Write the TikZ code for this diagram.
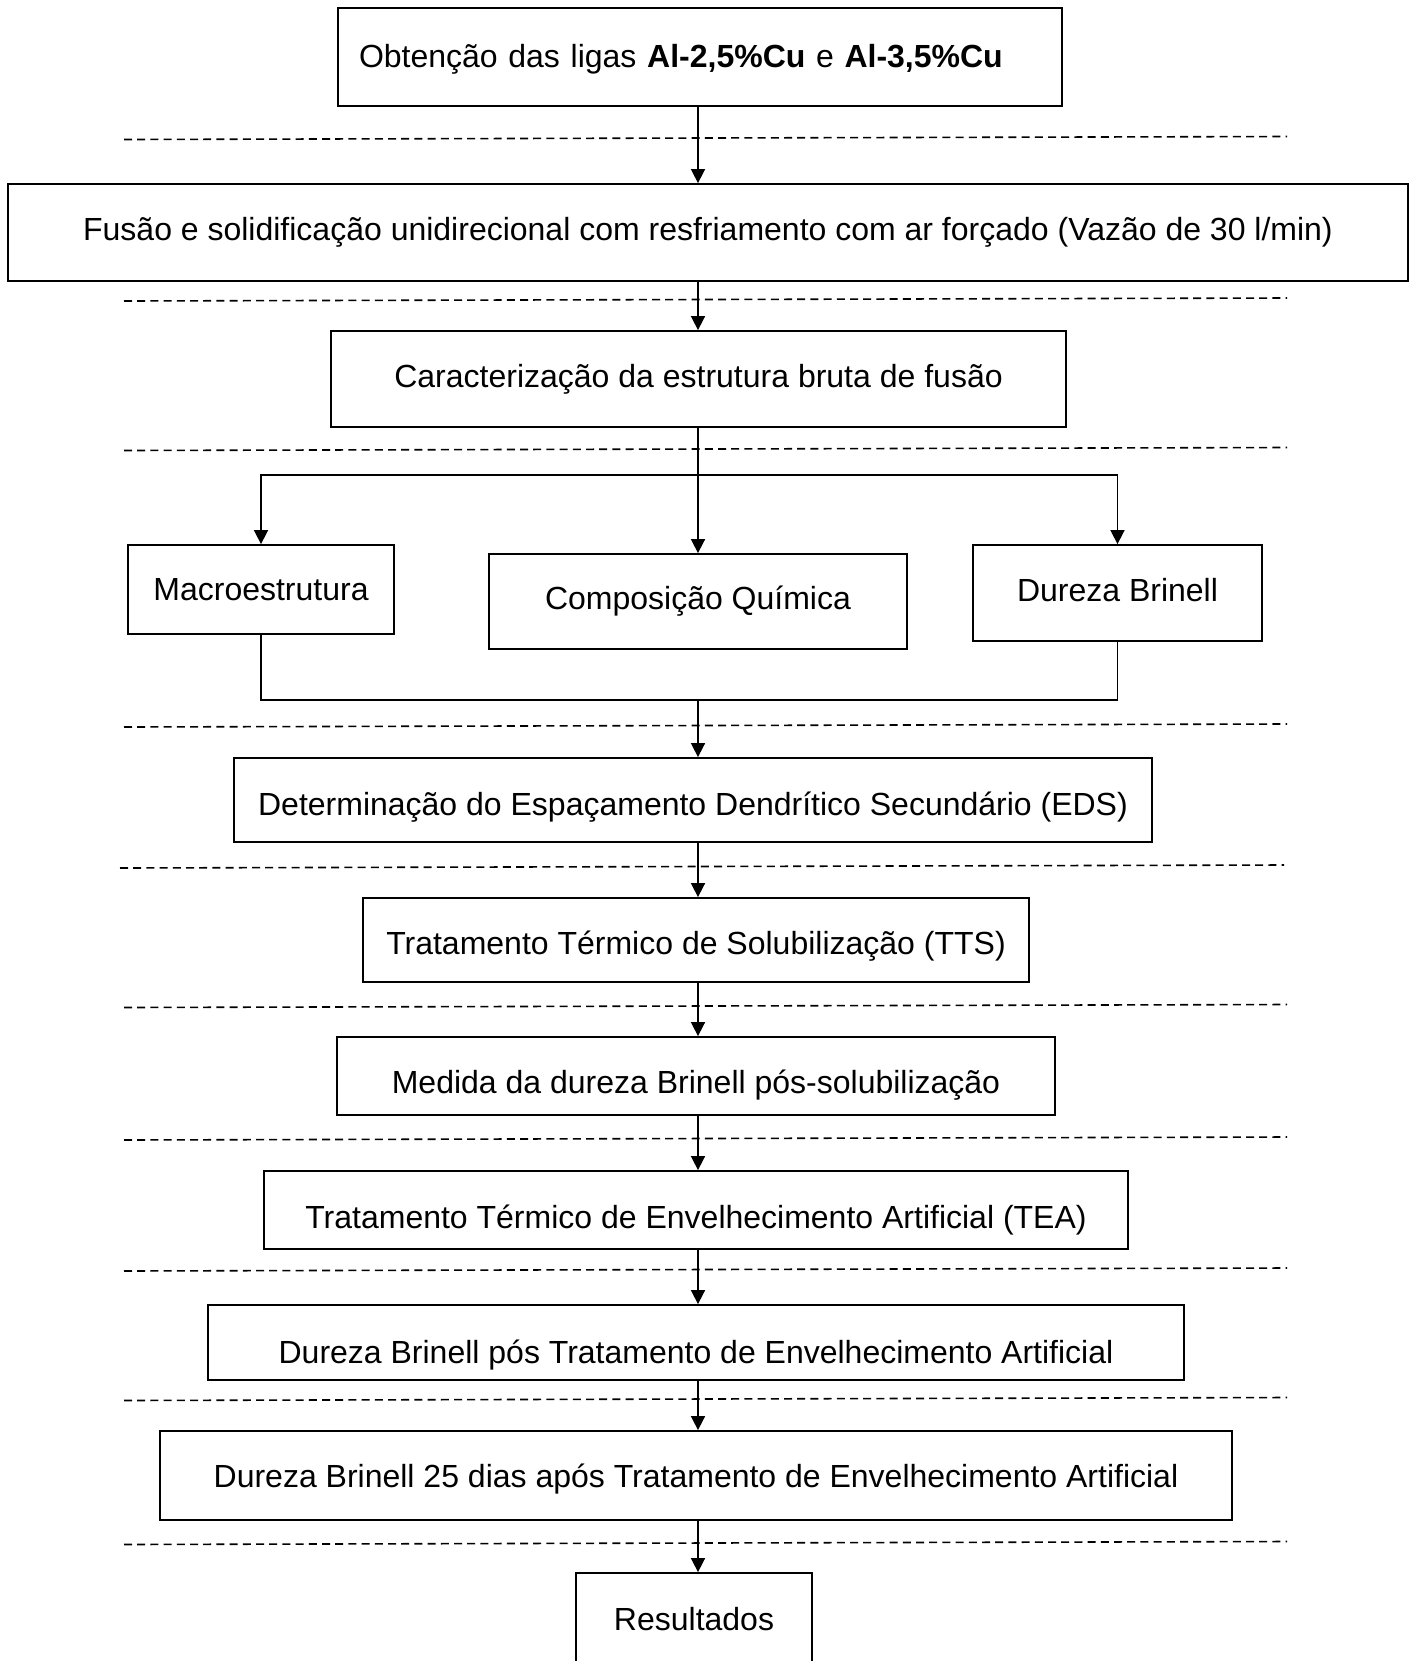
\documentclass[tikz,border=0pt]{standalone}
\usepackage{fontspec}
\setmainfont{Liberation Sans}
\usetikzlibrary{arrows.meta}

\tikzset{
  caixa/.style={draw, line width=0.9pt, inner sep=0pt, font=\fontsize{16}{19}\selectfont},
  desce/.style={text height=#1},
  seta/.style={line width=0.8pt, -{Triangle[length=7pt,width=7pt]}},
  linha/.style={line width=0.8pt},
  tracejado/.style={line width=0.8pt, dash pattern=on 4pt off 2.6pt},
}

\begin{document}
\begin{tikzpicture}[x=0.5pt,y=-0.5pt]
\useasboundingbox (0,0) rectangle (1417,1661);
\clip (0,0) rectangle (1417,1661);

% etapas
\node[caixa, desce=13.7pt, minimum width=362pt, minimum height=49pt, text width=341pt, align=left] (obt) at (700,57)
  {Obtenção das ligas \textbf{Al-2,5\%Cu} e \textbf{Al-3,5\%Cu}};
\node[caixa, minimum width=700pt, minimum height=48.5pt] (fus) at (708,232.5)
  {Fusão e solidificação unidirecional com resfriamento com ar forçado (Vazão de 30 l/min)};
\node[caixa, minimum width=367.5pt, minimum height=48pt] (car) at (698.5,379)
  {Caracterização da estrutura bruta de fusão};
\node[caixa, minimum width=133pt, minimum height=44.5pt] (mac) at (261,589.5) {Macroestrutura};
\node[caixa, minimum width=209pt, minimum height=47.5pt] (com) at (698,601.5) {Composição Química};
\node[caixa, text depth=3.2pt, minimum width=144.5pt, minimum height=48pt] (dur) at (1117.5,593) {Dureza Brinell};
\node[caixa, desce=19.1pt, minimum width=459pt, minimum height=42pt] (eds) at (693,800)
  {Determinação do Espaçamento Dendrítico Secundário (EDS)};
\node[caixa, desce=18.1pt, minimum width=333pt, minimum height=42pt] (tts) at (696,940)
  {Tratamento Térmico de Solubilização (TTS)};
\node[caixa, desce=21.3pt, minimum width=359pt, minimum height=39pt] (med) at (696,1076)
  {Medida da dureza Brinell pós-solubilização};
\node[caixa, desce=21.3pt, minimum width=432pt, minimum height=39pt] (tea) at (696,1210)
  {Tratamento Térmico de Envelhecimento Artificial (TEA)};
\node[caixa, desce=24.5pt, minimum width=488pt, minimum height=37.5pt] (dbp) at (696,1342.5)
  {Dureza Brinell pós Tratamento de Envelhecimento Artificial};
\node[caixa, desce=14.9pt, minimum width=536pt, minimum height=44.5pt] (d25) at (696,1475.5)
  {Dureza Brinell 25 dias após Tratamento de Envelhecimento Artificial};
\node[caixa, minimum width=118pt, minimum height=46pt] (res) at (694,1619) {Resultados};

% separadores
\draw[tracejado] (124,139.5) -- (1287,136.5);
\draw[tracejado] (124,301) -- (1287,298);
\draw[tracejado] (124,450.5) -- (1287,447.5);
\draw[tracejado] (124,727) -- (1287,724);
\draw[tracejado] (120,868) -- (1284,865);
\draw[tracejado] (124,1007.5) -- (1287,1004.5);
\draw[tracejado] (124,1140) -- (1287,1137);
\draw[tracejado] (124,1271) -- (1287,1268);
\draw[tracejado] (124,1400.5) -- (1287,1397.5);
\draw[tracejado] (124,1544.5) -- (1287,1541.5);

% ligacoes
\coordinate (eixo) at (698,0);
\coordinate (divide) at (698,475);
\coordinate (junta) at (698,700);
\draw[seta] (obt.south -| eixo) -- (fus.north -| eixo);
\draw[seta] (fus.south -| eixo) -- (car.north -| eixo);
\draw[seta] (car.south -| eixo) -- (com.north -| eixo);
\draw[seta] (divide) -| (mac.north);
\draw[seta] (divide) -| (dur.north);
\draw[linha] (mac.south) |- (junta) -| (dur.south);
\draw[seta] (junta) -- (eds.north -| eixo);
\draw[seta] (eds.south -| eixo) -- (tts.north -| eixo);
\draw[seta] (tts.south -| eixo) -- (med.north -| eixo);
\draw[seta] (med.south -| eixo) -- (tea.north -| eixo);
\draw[seta] (tea.south -| eixo) -- (dbp.north -| eixo);
\draw[seta] (dbp.south -| eixo) -- (d25.north -| eixo);
\draw[seta] (d25.south -| eixo) -- (res.north -| eixo);
\end{tikzpicture}
\end{document}
